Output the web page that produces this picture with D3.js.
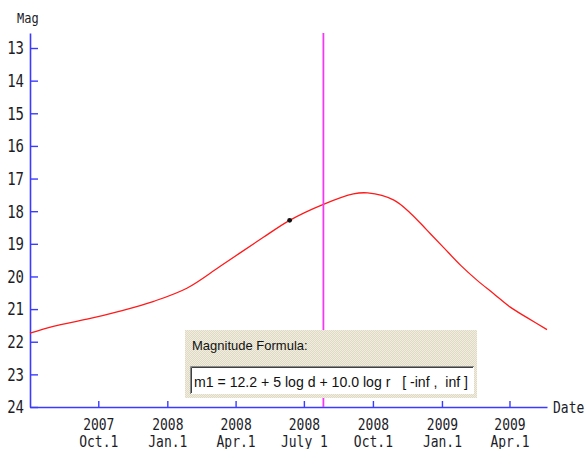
<!DOCTYPE html>
<html>
<head>
    <title>Comet magnitude curve</title>
    <script src="https://d3js.org/d3.v7.min.js"></script>
    <style>
      body { margin: 0; background: #fff; }
    </style>
</head>

<body>
  <div id="vis"></div>
</body>

<script>
  // curve points (date, magnitude)
  var curveDates = ["2007-07-02", "2007-08-02", "2007-09-16", "2007-10-30", "2007-12-14",
                    "2008-01-27", "2008-03-12", "2008-05-08", "2008-06-12", "2008-07-27",
                    "2008-09-05", "2008-09-24", "2008-10-29", "2008-11-20", "2008-12-12",
                    "2009-01-03", "2009-01-26", "2009-02-17", "2009-03-11", "2009-04-02",
                    "2009-04-25", "2009-05-21"]
  var curveMags = [21.74, 21.53, 21.31, 21.06, 20.76,
                   20.36, 19.68, 18.80, 18.28, 17.79,
                   17.47, 17.44, 17.66, 18.06, 18.58,
                   19.11, 19.66, 20.12, 20.53, 20.94,
                   21.27, 21.63]

  // the one observation
  var obsDates = ["2008-06-12"]
  var obsMags = [18.28]

  // marker line (current date)
  var markerDate = "2008-07-27"

  // axis ticks
  var magTicks = [13, 14, 15, 16, 17, 18, 19, 20, 21, 22, 23, 24]
  var tickDates = ["2007-10-01", "2008-01-01", "2008-04-01", "2008-07-01",
                   "2008-10-01", "2009-01-01", "2009-04-01"]
  var yearLabels = ["2007", "2008", "2008", "2008", "2008", "2009", "2009"]
  var monthLabels = ["Oct.1", "Jan.1", "Apr.1", "July 1", "Oct.1", "Jan.1", "Apr.1"]

  var formulaTitle = "Magnitude Formula:"
  var formulaText = "m1 = 12.2 + 5 log d + 10.0 log r   [ -inf ,  inf ]"

  var parseDate = d3.utcParse("%Y-%m-%d")
  var width = 587
  var height = 449
  var axisColor = "#3b3bff"
  var monoFont = "'DejaVu Sans Mono', 'Liberation Mono', monospace"

  var svg = d3.select("div#vis").append("svg")
      .attr("width", width)
      .attr("height", height)

  // scales
  var x = d3.scaleUtc()
      .domain([parseDate("2007-07-02"), parseDate("2009-05-21")])
      .range([30, 547])
  var y = d3.scaleLinear()
      .domain([12.54, 24])
      .range([33, 407])

  // y axis, ticks pointing into the plot
  var yAxis = svg.append("g")
      .attr("transform", "translate(30,0)")
      .call(d3.axisLeft(y)
          .tickValues(magTicks)
          .tickSizeInner(-8)
          .tickSizeOuter(0)
          .tickPadding(6)
          .tickFormat(d3.format("d")))
  yAxis.select(".domain").attr("stroke", axisColor).attr("stroke-width", 1.6)
  yAxis.selectAll(".tick line").attr("stroke", axisColor).attr("stroke-width", 1.4)
  yAxis.selectAll(".tick text")
      .attr("fill", "#1c1c28")
      .style("font-family", monoFont)
      .style("font-size", "14px")
      .attr("dy", "0.35em")
      .attr("y", 0)
      .attr("transform", "scale(1,1.2)")

  // x axis at the bottom, ticks pointing up
  var xAxis = svg.append("g")
      .attr("transform", "translate(0," + y(24) + ")")
      .call(d3.axisBottom(x)
          .tickValues(tickDates.map(parseDate))
          .tickSizeInner(-6)
          .tickSizeOuter(0)
          .tickFormat(""))
  xAxis.select(".domain").attr("stroke", axisColor).attr("stroke-width", 1.6)
  xAxis.selectAll(".tick line").attr("stroke", axisColor).attr("stroke-width", 1.4)
  xAxis.selectAll(".tick text").remove()
  xAxis.selectAll(".tick").each(function (d, i) {
      var g = d3.select(this)
      g.append("text")
          .attr("transform", "translate(0,23) scale(1,1.2)")
          .attr("text-anchor", "middle")
          .attr("fill", "#1c1c28")
          .style("font-family", monoFont)
          .style("font-size", "13px")
          .text(yearLabels[i])
      g.append("text")
          .attr("transform", "translate(0,40) scale(1,1.2)")
          .attr("text-anchor", "middle")
          .attr("fill", "#1c1c28")
          .style("font-family", monoFont)
          .style("font-size", "13px")
          .text(monthLabels[i])
  })

  // axis names
  svg.append("text")
      .attr("transform", "translate(17,23) scale(1,1.2)")
      .attr("fill", "#1c1c28")
      .style("font-family", monoFont)
      .style("font-size", "12px")
      .text("Mag")
  svg.append("text")
      .attr("transform", "translate(553,413) scale(1,1.2)")
      .attr("fill", "#1c1c28")
      .style("font-family", monoFont)
      .style("font-size", "13px")
      .text("Date")

  // magnitude curve
  var curveData = curveDates.map(function (d, i) {
      return {date: parseDate(d), mag: curveMags[i]}
  })
  var line = d3.line()
      .x(function (d) { return x(d.date) })
      .y(function (d) { return y(d.mag) })
      .curve(d3.curveCatmullRom.alpha(0.5))
  svg.append("path")
      .datum(curveData)
      .attr("d", line)
      .attr("fill", "none")
      .attr("stroke", "#ff1a1a")
      .attr("stroke-width", 1.3)

  // observation dot
  svg.selectAll("circle.obs")
      .data(obsDates.map(function (d, i) { return {date: parseDate(d), mag: obsMags[i]} }))
      .enter()
      .append("circle")
      .attr("class", "obs")
      .attr("cx", function (d) { return x(d.date) })
      .attr("cy", function (d) { return y(d.mag) })
      .attr("r", 2.4)
      .attr("fill", "#111")

  // magenta date marker
  svg.append("line")
      .attr("x1", x(parseDate(markerDate)))
      .attr("x2", x(parseDate(markerDate)))
      .attr("y1", y.range()[0])
      .attr("y2", y.range()[1])
      .attr("stroke", "#f03cf0")
      .attr("stroke-width", 1.8)

  // formula box (dotted beige panel like a windows dialog)
  var defs = svg.append("defs")
  var pat = defs.append("pattern")
      .attr("id", "dots")
      .attr("width", 2)
      .attr("height", 2)
      .attr("patternUnits", "userSpaceOnUse")
  pat.append("rect").attr("width", 2).attr("height", 2).attr("fill", "#f1eee0")
  pat.append("rect").attr("width", 1).attr("height", 1).attr("fill", "#dedac6")
  pat.append("rect").attr("x", 1).attr("y", 1).attr("width", 1).attr("height", 1).attr("fill", "#dedac6")

  var box = svg.append("g").attr("transform", "translate(185,330)")
  box.append("rect")
      .attr("width", 292)
      .attr("height", 68)
      .attr("fill", "url(#dots)")
  box.append("text")
      .attr("x", 7)
      .attr("y", 20)
      .attr("fill", "#111")
      .style("font-family", "'Liberation Sans', Arial, sans-serif")
      .style("font-size", "13px")
      .text(formulaTitle)

  // input field
  box.append("rect")
      .attr("x", 5)
      .attr("y", 36)
      .attr("width", 284)
      .attr("height", 28)
      .attr("fill", "#fff")
  box.append("path")
      .attr("d", "M5.5,64 V36.5 H289")
      .attr("fill", "none")
      .attr("stroke", "#8a8a8a")
  box.append("path")
      .attr("d", "M6.5,63 V37.5 H288")
      .attr("fill", "none")
      .attr("stroke", "#404040")
  box.append("text")
      .attr("x", 9)
      .attr("y", 57)
      .attr("fill", "#111")
      .attr("textLength", 274)
      .attr("lengthAdjust", "spacingAndGlyphs")
      .style("font-family", "'Liberation Sans', Arial, sans-serif")
      .style("font-size", "14px")
      .style("white-space", "pre")
      .text(formulaText)
</script>
</html>
